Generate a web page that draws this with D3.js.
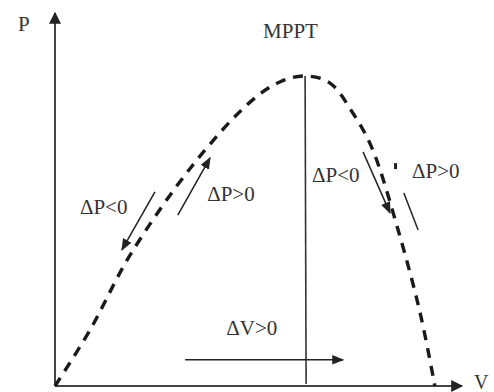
<!DOCTYPE html>
<html>
<head>
<meta charset="utf-8">
<script src="https://cdn.jsdelivr.net/npm/d3@7"></script>
<style>
  body { margin: 0; background: #fff; }
  text { font-family: "Liberation Serif", "DejaVu Serif", serif; fill: #333; }
</style>
</head>
<body>
<div id="chart"></div>
<script>
// P-V curve (arbitrary units)
var curveV = [0, 8.6, 18.4, 33.8, 47.8, 55.1, 61.3, 67.4, 73.0, 77.7, 84.1, 89.5, 93.1];
var curveP = [0, 15.0, 35.0, 59.1, 75.9, 81.3, 82.9, 81.0, 73.0, 63.6, 41.7, 19.5, 0];

// maximum power point
var mppV = 61.3, mppP = 82.9;

// annotation arrows: [v1, p1, v2, p2, head]
var arrows = [
    [24.5, 51.9, 16.4, 36.4, true],
    [30.1, 45.7, 38.0, 61.0, true],
    [75.5, 62.6, 82.1, 46.3, true],
    [85.5, 51.6, 89.0, 41.7, false],
    [31.9, 7.0, 70.6, 7.0, true]
];

// labels: [text, v, p]
var labels = [
    ['\u0394P<0', 6.1, 46.0],
    ['\u0394P>0', 37.3, 49.5],
    ['\u0394P<0', 63.0, 54.5],
    ['\u0394P>0', 87.5, 55.5],
    ['\u0394V>0', 42.0, 13.6],
    ['MPPT', 51.0, 93.0]
];

var svgWidth = 494, svgHeight = 392;

var svg = d3.select('#chart').append('svg')
    .attr('width', svgWidth).attr('height', svgHeight);

var x = d3.scaleLinear().domain([0, 100]).range([55, 463]);
var y = d3.scaleLinear().domain([0, 100]).range([386, 12]);

// arrow heads
var defs = svg.append('defs');
defs.append('marker')
    .attr('id', 'head')
    .attr('viewBox', '0 0 10 10')
    .attr('refX', 9).attr('refY', 5)
    .attr('markerWidth', 8).attr('markerHeight', 8)
    .attr('markerUnits', 'strokeWidth')
    .attr('orient', 'auto')
    .append('path').attr('d', 'M0,1 L10,5 L0,9 Z').attr('fill', '#222');
defs.append('marker')
    .attr('id', 'axisHead')
    .attr('viewBox', '0 0 10 10')
    .attr('refX', 9).attr('refY', 5)
    .attr('markerWidth', 7).attr('markerHeight', 6)
    .attr('markerUnits', 'strokeWidth')
    .attr('orient', 'auto')
    .append('path').attr('d', 'M0,0 L10,5 L0,10 Z').attr('fill', '#222');

// axes
svg.append('line')
    .attr('x1', x(0)).attr('y1', y(0)).attr('x2', x(0)).attr('y2', y(100) + 1)
    .attr('stroke', '#444').attr('stroke-width', 2)
    .attr('marker-end', 'url(#axisHead)');
svg.append('line')
    .attr('x1', x(0)).attr('y1', y(0)).attr('x2', x(100) - 1).attr('y2', y(0))
    .attr('stroke', '#444').attr('stroke-width', 2)
    .attr('marker-end', 'url(#axisHead)');

svg.append('text').attr('x', 18).attr('y', 31).attr('font-size', 21).text('P');
svg.append('text').attr('x', 474).attr('y', 389).attr('font-size', 20).text('V');

// dashed P-V curve
var line = d3.line()
    .x(function(d) { return x(d[0]); })
    .y(function(d) { return y(d[1]); })
    .curve(d3.curveCatmullRom);

svg.append('path')
    .datum(d3.zip(curveV, curveP))
    .attr('d', line)
    .attr('fill', 'none')
    .attr('stroke', '#1a1a1a')
    .attr('stroke-width', 3.4)
    .attr('stroke-dasharray', '10,8');

// vertical line through MPP
svg.append('line')
    .attr('x1', x(mppV)).attr('y1', y(mppP))
    .attr('x2', x(mppV) + 1).attr('y2', y(0) - 2)
    .attr('stroke', '#333').attr('stroke-width', 1.6);

// annotation arrows
svg.selectAll('.arrow')
    .data(arrows).enter().append('line')
    .attr('class', 'arrow')
    .attr('x1', function(d) { return x(d[0]); })
    .attr('y1', function(d) { return y(d[1]); })
    .attr('x2', function(d) { return x(d[2]); })
    .attr('y2', function(d) { return y(d[3]); })
    .attr('stroke', '#222').attr('stroke-width', 1.5)
    .attr('marker-end', function(d) { return d[4] ? 'url(#head)' : null; });

// small mark next to right arrow
svg.append('rect')
    .attr('x', x(83.1)).attr('y', y(59.6))
    .attr('width', 3).attr('height', 6)
    .attr('fill', '#222');

// labels
svg.selectAll('.lbl')
    .data(labels).enter().append('text')
    .attr('class', 'lbl')
    .attr('x', function(d) { return x(d[1]); })
    .attr('y', function(d) { return y(d[2]); })
    .attr('font-size', 21)
    .text(function(d) { return d[0]; });
</script>
</body>
</html>
